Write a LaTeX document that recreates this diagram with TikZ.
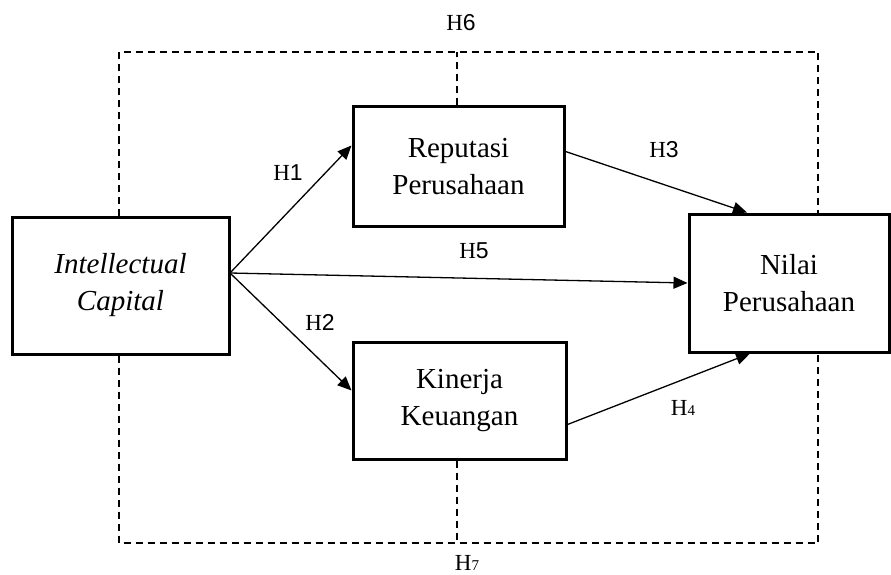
\documentclass[tikz,border=0pt]{standalone}
\usepackage{fontspec}
\setmainfont{Liberation Serif}
\newfontfamily\hdigit{Liberation Sans}
\usetikzlibrary{arrows.meta,calc}
\newcommand{\hlab}[1]{H{\hdigit #1}}
\newcommand{\hlabos}[1]{H{\fontsize{15}{15}\selectfont #1}}
\begin{document}
\begin{tikzpicture}[x=1pt,y=-1pt,
  box/.style={draw,line width=3pt,align=center,inner sep=0pt,
    font=\fontsize{29}{37}\selectfont},
  link/.style={line width=1.3pt,-{Triangle[length=14pt,width=12pt]}},
  frame/.style={line width=1.8pt,dash pattern=on 7pt off 5pt},
  lab/.style={font=\fontsize{23}{23}\selectfont,inner sep=0pt}]
\useasboundingbox (0,0) rectangle (891,575);
\node[box,minimum width=217pt,minimum height=137pt] (IC) at (120.5,285.5) {\textit{Intellectual}\\\textit{Capital}};
\node[box,minimum width=211pt,minimum height=119pt] (Rep) at (458.5,166.5) {Reputasi\\Perusahaan};
\node[box,minimum width=213pt,minimum height=117pt] (Kin) at (459.5,400.5) {Kinerja\\Keuangan};
\node[box,minimum width=200pt,minimum height=138pt] (Nil) at (789,283) {Nilai\\Perusahaan};
\coordinate (tl) at (119,52);
\coordinate (tr) at (818,52);
\coordinate (bl) at (119,543);
\coordinate (br) at (818,543);
\coordinate (tm) at (457,52);
\coordinate (bm) at (457,543);
\coordinate (o) at (230,273);
\draw[frame] (tl |- IC.north) -- (tl) -- (tr) -- (tr |- Nil.north);
\draw[frame] (tl |- IC.south) -- (bl) -- (br) -- (br |- Nil.south);
\draw[frame] (tm |- Rep.north) -- (tm);
\draw[frame] (bm |- Kin.south) -- (bm);
\draw[link] (o) -- ([yshift=21pt]Rep.west);
\draw[link] (o) -- ([yshift=10pt]Kin.west);
\draw[link] (o) -- (Nil.west);
\draw[link] ([yshift=15pt]Rep.east) -- ([xshift=-42pt]Nil.north);
\draw[link] ([yshift=-24pt]Kin.east) -- ([xshift=-39pt]Nil.south);
\node[lab] (h6) at (461,23) {\hlab{6}};
\node[lab] (h1) at (288,173) {\hlab{1}};
\node[lab] (h3) at (664,150) {\hlab{3}};
\node[lab] (h5) at (474,251) {\hlab{5}};
\node[lab] (h2) at (320,322) {\hlab{2}};
\node[lab] (h4) at (683,408) {\hlabos{4}};
\node[lab] (h7) at (467,563) {\hlabos{7}};
\end{tikzpicture}
\end{document}
